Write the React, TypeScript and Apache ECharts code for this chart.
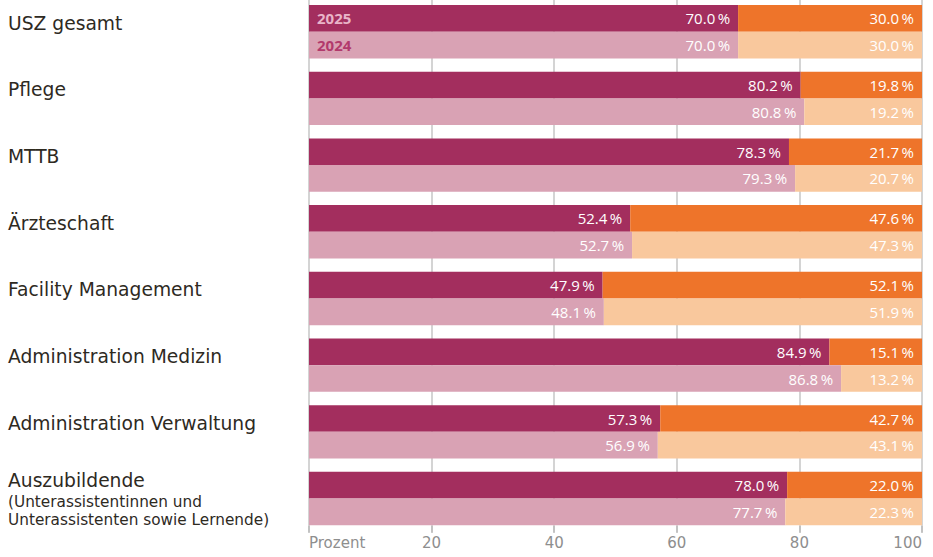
import React, { useEffect, useRef } from "react";
import * as echarts from "echarts";

const categories = [
  "USZ gesamt",
  "Pflege",
  "MTTB",
  "Ärzteschaft",
  "Facility Management",
  "Administration Medizin",
  "Administration Verwaltung",
  "Auszubildende",
];
const subLines: Record<string, string[]> = {
  Auszubildende: ["(Unterassistentinnen und", "Unterassistenten sowie Lernende)"],
};
const years = ["2025", "2024"];
const left2025 = [70.0, 80.2, 78.3, 52.4, 47.9, 84.9, 57.3, 78.0];
const right2025 = [30.0, 19.8, 21.7, 47.6, 52.1, 15.1, 42.7, 22.0];
const left2024 = [70.0, 80.8, 79.3, 52.7, 48.1, 86.8, 56.9, 77.7];
const right2024 = [30.0, 19.2, 20.7, 47.3, 51.9, 13.2, 43.1, 22.3];
const xTicks = [0, 20, 40, 60, 80, 100];

const FONT = "'Open Sans', 'Noto Sans', sans-serif";
const CAT_FONT = "'DejaVu Sans', sans-serif";
const C25A = "#a32e5e";
const C25B = "#ee742a";
const C24A = "#d9a2b4";
const C24B = "#f9c89d";
const BAR_W = 26.7;

const fmt = (v: number) => `${v.toFixed(1)}\u2009%`;

export default function App() {
  const ref = useRef<HTMLDivElement>(null);
  useEffect(() => {
    document.body.style.margin = "0";
    const chart = echarts.init(ref.current!, null, { renderer: "svg" });
    const valueLabel = {
      show: true,
      position: "insideRight",
      distance: 8,
      color: "#ffffff",
      fontFamily: FONT,
      fontSize: 15,
      formatter: (p: any) => fmt(p.value),
    };
    const yearSeries = (year: string, stack: string, color: string) => ({
      type: "bar",
      stack,
      barWidth: BAR_W,
      z: 5,
      silent: true,
      itemStyle: { color: "transparent" },
      data: categories.map((_, i) => (i === 0 ? 0 : "-")),
      label: {
        show: true,
        position: "right",
        distance: 8,
        color,
        fontFamily: FONT,
        fontSize: 15,
        fontWeight: "bold",
        formatter: () => year,
      },
    });
    chart.setOption({
      animation: false,
      grid: { left: 309, right: 11, top: 0.35, bottom: 25.1 },
      xAxis: {
        type: "value",
        min: 0,
        max: 100,
        interval: 20,
        offset: -6,
        axisLine: { show: false },
        axisTick: { show: true, length: 7, lineStyle: { color: "#bdbdbd", width: 1.5 } },
        splitLine: { show: true, lineStyle: { color: "#c6c6c6", width: 1.5 } },
        axisLabel: {
          color: "#8e8e8e",
          fontFamily: CAT_FONT,
          fontSize: 15,
          margin: 10,
          alignMinLabel: "left",
          alignMaxLabel: "right",
          customValues: xTicks,
          formatter: (v: number) => (v === 0 ? "Prozent" : String(v)),
        },
      },
      yAxis: {
        type: "category",
        inverse: true,
        data: categories,
        axisLine: { show: false },
        axisTick: { show: false },
        axisLabel: {
          align: "left",
          margin: 301,
          formatter: (v: string) => {
            const subs = subLines[v];
            if (subs) return [`{main|${v}}`, ...subs.map((s) => `{sub|${s}}`)].join("\n");
            return `{main|${v}}\n{gap| }`;
          },
          rich: {
            main: { fontFamily: CAT_FONT, fontSize: 18.7, lineHeight: 24, color: "#2e2a1f" },
            sub: { fontFamily: CAT_FONT, fontSize: 15.3, lineHeight: 18, color: "#2e2a1f" },
            gap: { fontSize: 10, lineHeight: 17 },
          },
        },
      },
      series: [
        yearSeries(years[0], "y2025", "#e9b4c8"),
        {
          type: "bar",
          stack: "y2025",
          barWidth: BAR_W,
          barGap: "0%",
          itemStyle: { color: C25A },
          label: valueLabel,
          data: left2025,
        },
        {
          type: "bar",
          stack: "y2025",
          barWidth: BAR_W,
          itemStyle: { color: C25B },
          label: valueLabel,
          data: right2025,
        },
        yearSeries(years[1], "y2024", "#b23a6c"),
        {
          type: "bar",
          stack: "y2024",
          barWidth: BAR_W,
          itemStyle: { color: C24A },
          label: valueLabel,
          data: left2024,
        },
        {
          type: "bar",
          stack: "y2024",
          barWidth: BAR_W,
          itemStyle: { color: C24B },
          label: valueLabel,
          data: right2024,
        },
      ],
    });
    return () => chart.dispose();
  }, []);
  return <div ref={ref} style={{ width: 933, height: 559, marginTop: -2 }} />;
}
